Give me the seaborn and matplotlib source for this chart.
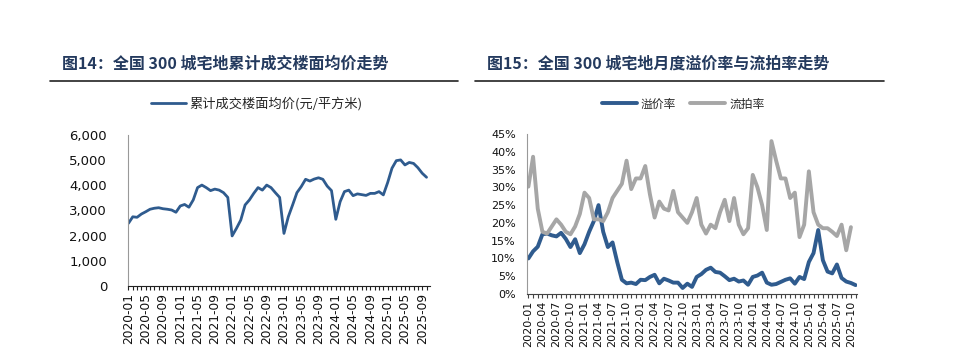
import numpy as np
import pandas as pd
import matplotlib
matplotlib.use("Agg")
import matplotlib.pyplot as plt
from matplotlib.lines import Line2D
from matplotlib.ticker import FuncFormatter, MultipleLocator
import seaborn as sns

# %%
# Data
months_left = pd.date_range("2020-01", periods=70, freq="MS").strftime("%Y-%m").tolist()
avg_price = [
    2490, 2750, 2730, 2860, 2950, 3050, 3090, 3110, 3070, 3050, 3020, 2930,
    3180, 3240, 3130, 3420, 3910, 4010, 3910, 3790, 3850, 3810, 3710, 3520,
    1990, 2290, 2620, 3220, 3420, 3680, 3910, 3810, 4010, 3910, 3710, 3520,
    2090, 2750, 3220, 3710, 3950, 4240, 4170, 4250, 4300, 4240, 3970, 3790,
    2650, 3350, 3750, 3810, 3590, 3660, 3630, 3600, 3680, 3680, 3750, 3620,
    4110, 4680, 4980, 5010, 4810, 4910, 4870, 4700, 4480, 4320,
]

months_right = pd.date_range("2020-01", periods=71, freq="MS").strftime("%Y-%m").tolist()
premium_rate = [
    10.0, 12.0, 13.3, 16.8, 17.0, 16.5, 16.2, 17.2, 15.5, 13.2, 15.4, 11.5,
    14.0, 17.5, 20.5, 25.0, 17.5, 13.2, 14.5, 9.0, 4.0, 3.0, 3.2, 2.8,
    4.0, 3.9, 4.8, 5.4, 3.0, 4.3, 3.8, 3.2, 3.2, 1.7, 2.9, 2.0,
    4.8, 5.6, 6.8, 7.4, 6.2, 6.0, 5.0, 3.9, 4.3, 3.5, 3.8, 2.6,
    4.8, 5.2, 6.0, 3.2, 2.6, 2.8, 3.4, 4.0, 4.4, 2.9, 4.8, 4.2,
    9.0, 11.5, 18.0, 9.5, 6.3, 5.8, 8.3, 4.5, 3.5, 3.1, 2.5,
]
failed_rate = [
    30.2, 38.6, 24.0, 17.5, 17.0, 19.0, 21.0, 19.5, 17.5, 16.8, 19.0, 22.5,
    28.5, 27.0, 21.0, 21.0, 20.5, 23.0, 27.0, 29.0, 31.0, 37.5, 29.5, 32.5,
    32.5, 36.0, 28.0, 21.5, 26.0, 24.0, 23.5, 29.0, 23.0, 21.5, 20.0, 23.0,
    27.0, 19.5, 17.0, 19.5, 18.5, 23.0, 26.5, 20.5, 27.0, 19.5, 16.8, 18.5,
    33.5, 30.0, 25.0, 18.0, 43.0, 37.5, 32.5, 32.5, 27.0, 28.5, 16.0, 19.5,
    34.5, 23.0, 19.5, 18.5, 18.5, 17.5, 16.3, 19.5, 12.3, 18.8, np.nan,
]

left_title = "图14：全国 300 城宅地累计成交楼面均价走势"
right_title = "图15：全国 300 城宅地月度溢价率与流拍率走势"
left_label = "累计成交楼面均价(元/平方米)"
right_labels = ["溢价率", "流拍率"]

# %%
sns.set_style("white")
plt.rcParams["font.family"] = ["Noto Sans CJK SC", "DejaVu Sans"]

blue = "#2f5b8e"
grey = "#a6a6a6"
navy = "#243a5e"

df_left = pd.DataFrame({"idx": range(len(months_left)), "price": avg_price})
df_right = pd.DataFrame({
    "idx": list(range(len(months_right))) * 2,
    "rate": premium_rate + failed_rate,
    "series": [right_labels[0]] * len(months_right) + [right_labels[1]] * len(months_right),
})

W, H = 975, 354
fig = plt.figure(figsize=(W / 100, H / 100), dpi=100)

# titles and rules
fig.text(62 / W, 1 - 64 / H, left_title, fontsize=11.5, fontweight="bold", color=navy, va="center")
fig.text(487 / W, 1 - 64 / H, right_title, fontsize=11.5, fontweight="bold", color=navy, va="center")
fig.add_artist(Line2D([50 / W, 458 / W], [1 - 81 / H] * 2, color="#222222", lw=1.2))
fig.add_artist(Line2D([475 / W, 884 / W], [1 - 81 / H] * 2, color="#222222", lw=1.2))

# left panel
ax1 = fig.add_axes([128 / W, 1 - 286 / H, (430 - 128) / W, (286 - 135) / H])
sns.lineplot(data=df_left, x="idx", y="price", ax=ax1, color=blue, lw=2.0, label=left_label)
ax1.set_ylim(0, 6000)
ax1.set_xlim(-0.1, 69.8)
ax1.yaxis.set_major_locator(MultipleLocator(1000))
ax1.yaxis.set_major_formatter(FuncFormatter(lambda v, p: f"{int(v):,}"))
ax1.xaxis.set_major_locator(MultipleLocator(4))
ax1.xaxis.set_minor_locator(MultipleLocator(1))
ax1.xaxis.set_major_formatter(FuncFormatter(
    lambda v, p: months_left[int(round(v))] if 0 <= round(v) < len(months_left) else ""))
ax1.tick_params(axis="y", length=3, pad=12, labelsize=9.5, color="#888888", labelcolor="#111111")
ax1.tick_params(axis="x", which="both", length=3, width=0.8, pad=2, labelsize=8.8,
                rotation=90, bottom=True, color="#222222", labelcolor="#111111")
for t in ax1.get_yticklabels():
    t.set_family("DejaVu Sans")
for t in ax1.get_xticklabels():
    t.set_family("DejaVu Sans")
ax1.set_xlabel("")
ax1.set_ylabel("")
sns.despine(ax=ax1)
ax1.spines["left"].set_color("#999999")
ax1.spines["bottom"].set_color("#222222")
ax1.legend(loc="center", bbox_to_anchor=(257 / W, 1 - 104 / H), bbox_transform=fig.transFigure,
           frameon=False, fontsize=9.5, handlelength=2.6, handletextpad=0.3)

# right panel
ax2 = fig.add_axes([527 / W, 1 - 294 / H, (857 - 527) / W, (294 - 134) / H])
sns.lineplot(data=df_right, x="idx", y="rate", hue="series", ax=ax2,
             palette=[blue, grey], lw=2.8)
ax2.set_ylim(0, 45)
ax2.set_xlim(-0.3, 70.3)
ax2.yaxis.set_major_locator(MultipleLocator(5))
ax2.yaxis.set_major_formatter(FuncFormatter(lambda v, p: f"{int(v)}%"))
ax2.xaxis.set_major_locator(MultipleLocator(3))
ax2.xaxis.set_minor_locator(MultipleLocator(1))
ax2.xaxis.set_major_formatter(FuncFormatter(
    lambda v, p: months_right[int(round(v))] if 0 <= round(v) < len(months_right) else ""))
ax2.tick_params(axis="y", length=2, pad=6, labelsize=8, color="#888888", labelcolor="#111111")
ax2.tick_params(axis="x", which="both", length=3, width=0.8, pad=2, labelsize=8,
                rotation=90, bottom=True, color="#444444", labelcolor="#111111")
for t in ax2.get_yticklabels():
    t.set_family("DejaVu Sans")
for t in ax2.get_xticklabels():
    t.set_family("DejaVu Sans")
ax2.set_xlabel("")
ax2.set_ylabel("")
sns.despine(ax=ax2)
ax2.spines["left"].set_color("#999999")
ax2.spines["bottom"].set_color("#444444")
handles, labels = ax2.get_legend_handles_labels()
ax2.legend(handles, labels, loc="center", bbox_to_anchor=(683 / W, 1 - 104 / H),
           bbox_transform=fig.transFigure, frameon=False, fontsize=8.5, ncol=2,
           handlelength=3.0, handletextpad=0.3, columnspacing=1.2)

fig.savefig("out.png", dpi=100)
